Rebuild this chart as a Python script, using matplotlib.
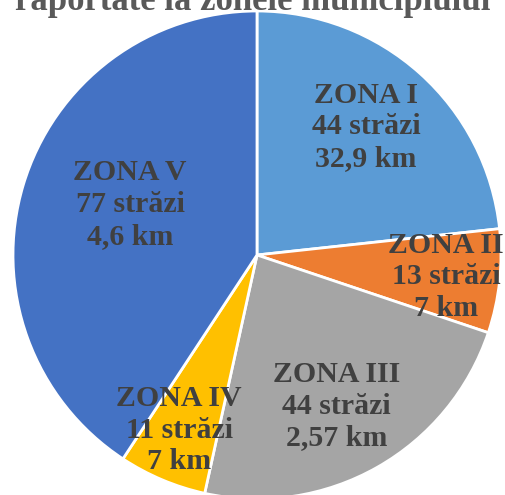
import numpy as np
import matplotlib
matplotlib.use("Agg")
from matplotlib import pyplot as plt

zones = ["ZONA I", "ZONA II", "ZONA III", "ZONA IV", "ZONA V"]
streets = [44, 13, 44, 11, 77]
lengths = ["32,9 km", "7 km", "2,57 km", "7 km", "4,6 km"]
colors = ["#5B9BD5", "#ED7D31", "#A5A5A5", "#FFC000", "#4472C4"]
title = "raportate la zonele municipiului"

# where each label sits: fraction of radius, extra angle (deg)
label_r = [0.69, 0.78, 0.70, 0.785, 0.56]
label_da = [1.5, -0.4, -1.7, -1.1, -5.0]

W, H = 505, 495
R = 244.0   # pie radius in px
cx, cy = 257.0, 255.0  # pie centre, px from left / top

fig = plt.figure(figsize=(W / 100, H / 100), dpi=100)
ax = fig.add_axes([0, 0, 1, 1])
wedges, _ = ax.pie(streets, colors=colors, startangle=90, counterclock=False,
                   radius=1.0, wedgeprops=dict(edgecolor="white", linewidth=2))
ax.set_xlim(-cx / R, (W - cx) / R)
ax.set_ylim(-(H - cy) / R, cy / R)
ax.set_aspect("auto")
ax.axis("off")

for i, w in enumerate(wedges):
    a = np.deg2rad((w.theta1 + w.theta2) / 2 + label_da[i])
    r = label_r[i]
    txt = f"{zones[i]}\n{streets[i]} străzi\n{lengths[i]}"
    ax.text(r * np.cos(a), r * np.sin(a), txt, ha="center", va="center",
            family="Liberation Serif", weight="bold", fontsize=21.5,
            color="#404040", linespacing=1.22)

fig.text(0.5, 1 - 10 / H, title, ha="center", va="baseline",
         family="Liberation Serif", weight="bold", fontsize=25,
         color="#595959")

fig.savefig("out.png", dpi=100)
